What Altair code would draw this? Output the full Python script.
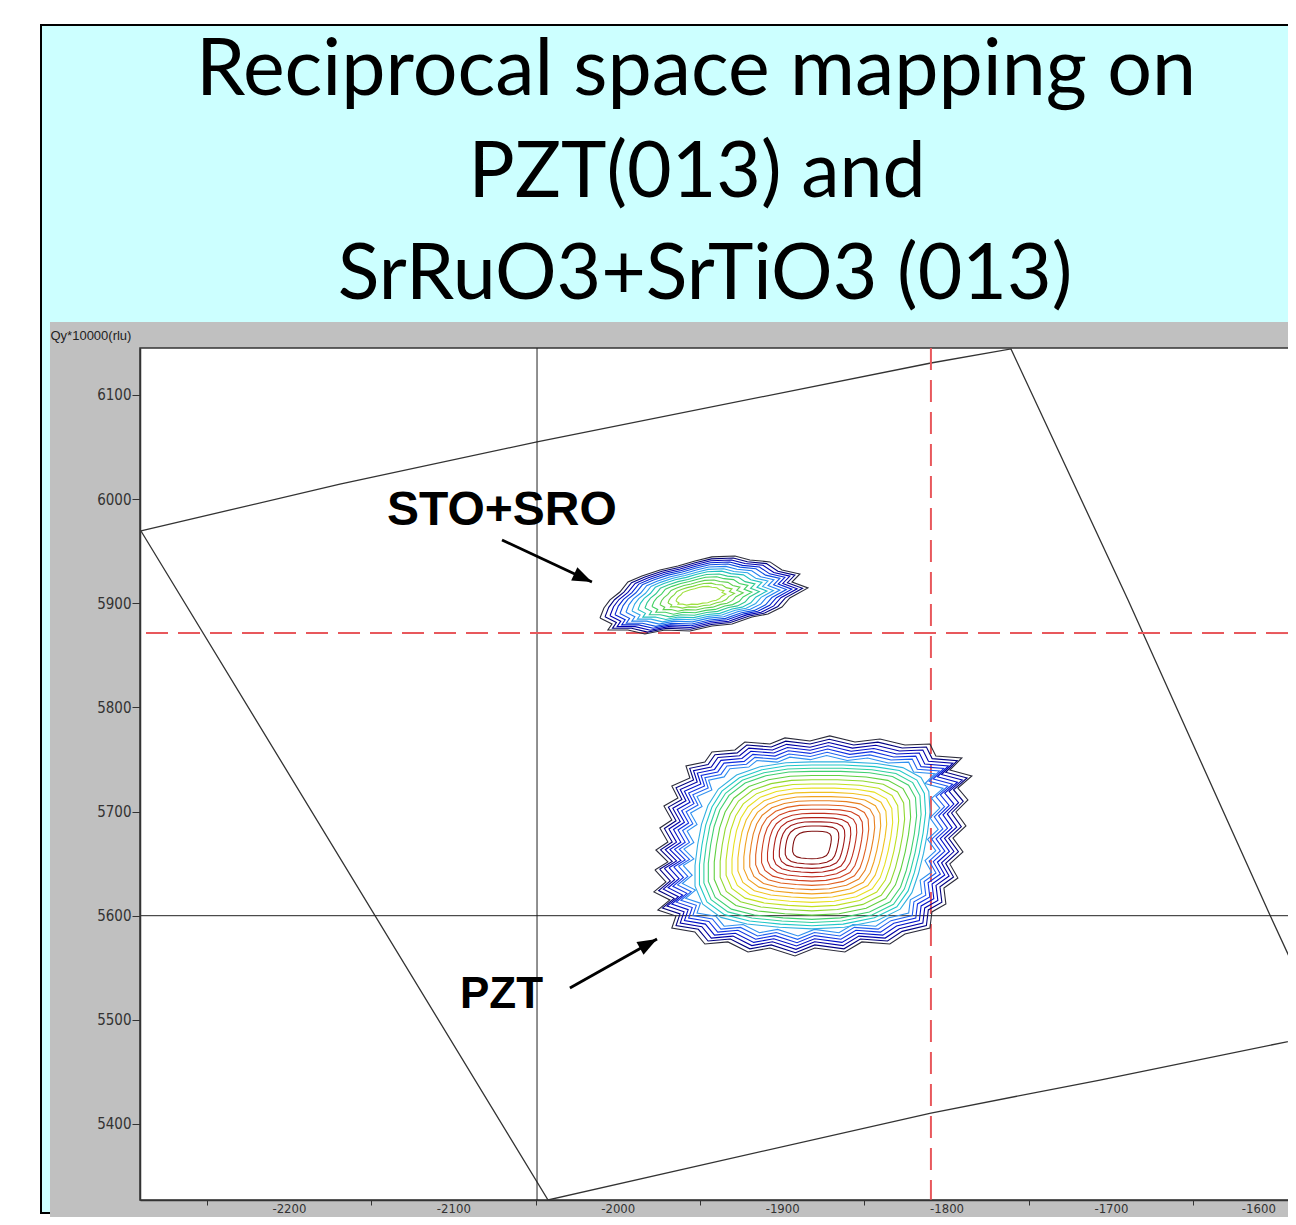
import altair as alt
import pandas as pd

# ---------------- data (Qx*10000, Qy*10000 in r.l.u.) ----------------
x_domain = [-2290.6, -1592.3]
y_domain = [5327.0, 6145.1]
x_ticks = list(range(-2250, -1599, 50))
y_ticks = list(range(5400, 6101, 100))

# boundary of the scanned area
scan_x = [-2290.0, -2169.0, -2049.1, -1809.5, -1760.8, -1689.6, -1603.3,
          -1569.8, -1706.7, -1809.5, -2042.4, -2290.0]
scan_y = [5969.4, 6014.5, 6054.9, 6130.7, 6144.2, 5903.1, 5600.6,
          5486.4, 5442.2, 5410.5, 5327.0, 5969.4]

# reference lines
black_x = [-2049.1]
black_y = [5600.0]
red_x = [-1809.5]
red_y = [5871.4]

# PZT peak: centre, jagged outer contour and smoother inner contour shape
pzt_center = (-1881.9, 5667.9)
pzt_dx = [-95.5, -87.6, -94.9, -87.6, -92.5, -85.2, -90.0, -81.5, -85.2, -74.2,
          -76.6, -65.1, -60.8, -46.8, -40.8, -25.5, -16.4, -1.2, 10.9, 26.2,
          41.4, 56.6, 71.8, 75.4, 91.2, 83.9, 97.3, 88.8, 94.9, 87.6,
          93.7, 85.8, 91.9, 83.9, 88.8, 80.3, 81.5, 73.0, 71.8, 56.6,
          47.4, 30.4, 20.1, 1.8, -10.3, -25.5, -38.9, -51.1, -65.1, -71.2,
          -85.2, -82.7, -93.7, -86.4, -96.1, -88.8]
pzt_dy = [-24.0, -16.3, -4.8, 2.9, 16.3, 24.0, 37.5, 45.1, 56.7, 64.3,
          75.9, 79.7, 89.3, 91.2, 98.9, 97.0, 102.8, 99.9, 104.7, 98.9,
          101.8, 96.0, 97.0, 85.5, 83.5, 72.0, 66.3, 54.7, 43.2, 31.7,
          18.2, 6.7, -6.7, -18.2, -31.7, -41.3, -56.7, -64.3, -79.7, -85.5,
          -95.1, -93.1, -102.8, -98.9, -106.6, -98.9, -102.8, -93.1, -95.1, -83.5,
          -79.7, -68.2, -62.4, -52.8, -45.1, -35.5]
pzt_outer_levels = [1.00, 0.97, 0.94, 0.91, 0.88, 0.85, 0.82]
pzt_outer_colors = ["#2b2b3a", "#000080", "#0000a8", "#0010c8", "#1030e0",
                    "#2060f0", "#3090f0"]
pzt_in_dx = [0, 25, 50, 70, 84, 90, 91, 89, 86, 82, 77, 68, 50, 25,
             0, -25, -50, -70, -84, -90, -90, -88, -85, -80, -72, -58, -40, -20]
pzt_in_dy = [101, 101, 99, 94, 82, 65, 40, 15, -10, -35, -58, -78, -92, -100,
             -102, -100, -96, -88, -72, -50, -25, 0, 25, 48, 68, 85, 95, 100]
pzt_inner_levels = [0.79, 0.76, 0.73, 0.70, 0.66, 0.62, 0.58, 0.54, 0.50, 0.46,
                    0.42, 0.38, 0.34, 0.30, 0.26, 0.22, 0.18, 0.13]
pzt_inner_colors = ["#30b0e0", "#20c8c8", "#30d0a0", "#40d070", "#60d040",
                    "#90d830", "#c0e020", "#e8e020", "#f0c020", "#f0a020",
                    "#e88020", "#e06020", "#d04020", "#c03020", "#b02018",
                    "#a01818", "#901010", "#801010"]

# STO+SRO peak
sto_center = (-1950.0, 5907.0)
sto_dx = [-60.8, -53.5, -56.0, -43.8, -33.5, -21.3, -6.1, 7.3, 19.5, 31.6,
          41.4, 49.9, 54.7, 65.7, 56.0, 60.8, 49.9, 42.6, 30.4, 21.3,
          7.3, -3.0, -13.4, -24.3, -35.3, -43.8, -48.7, -54.7, -58.4]
sto_dy = [-21.1, -26.9, -32.7, -32.7, -36.5, -32.7, -33.6, -28.8, -26.9, -20.2,
          -17.3, -10.6, -1.9, 7.7, 13.4, 21.1, 25.0, 32.7, 34.6, 38.4,
          37.5, 33.6, 28.8, 25.0, 19.2, 13.4, 3.8, -3.8, -11.5]
sto_levels = [1.00, 0.95, 0.90, 0.85, 0.80, 0.74, 0.68, 0.62, 0.55, 0.48,
              0.40, 0.32, 0.24]
sto_colors = ["#2b2b3a", "#000080", "#0000b0", "#0020d0", "#1050e0", "#2080f0",
              "#30a8e8", "#20c0c0", "#30c890", "#40d060", "#60d050", "#80d840",
              "#a0e040"]

# annotations
label_text = ["STO+SRO", "PZT"]
label_x = [-2140.4, -2096.0]
label_y = [5975.2, 5511.3]
label_size = [48, 44]
arrow_x1 = [-2070.4, -2029.1]
arrow_y1 = [5960.8, 5530.5]
arrow_x2 = [-2015.7, -1976.1]
arrow_y2 = [5920.4, 5577.6]
arrow_angle = [25, 331]

title_lines = ["Reciprocal space mapping on", "PZT(013) and", "SrRuO3+SrTiO3 (013)"]

# ---------------- tables ----------------
rows = []
for name, (cx, cy), dxs, dys, levels, colors in [
    ("sto", sto_center, sto_dx, sto_dy, sto_levels, sto_colors),
    ("pzo", pzt_center, pzt_dx, pzt_dy, pzt_outer_levels, pzt_outer_colors),
    ("pzi", pzt_center, pzt_in_dx, pzt_in_dy, pzt_inner_levels, pzt_inner_colors),
]:
    n = len(dxs)
    for li, (f, c) in enumerate(zip(levels, colors)):
        for k in range(n + 1):
            j = k % n
            rows.append({"ring": f"{name}{li:02d}", "ord": k,
                         "x": cx + f * dxs[j], "y": cy + f * dys[j], "col": c})
contours = pd.DataFrame(rows)
scan = pd.DataFrame({"x": scan_x, "y": scan_y, "ord": list(range(len(scan_x)))})
labels = pd.DataFrame({"x": label_x, "y": label_y, "t": label_text, "fs": label_size})
arrows = pd.DataFrame({"x": arrow_x1, "y": arrow_y1, "x2": arrow_x2, "y2": arrow_y2,
                       "ang": arrow_angle})
one = pd.DataFrame({"a": [0]})

# ---------------- scales / axes ----------------
W, H = 1148, 852
NARROW = "Liberation Sans Narrow, Arial Narrow, DejaVu Sans Condensed, Liberation Sans, sans-serif"
xs = alt.Scale(domain=x_domain, nice=False, zero=False)
ys = alt.Scale(domain=y_domain, nice=False, zero=False)
xaxis = alt.Axis(
    values=x_ticks, grid=False, title=None, zindex=1,
    labelExpr="datum.value % 100 == 0 ? '' + datum.value : ''",
    tickColor={"condition": {"test": "datum.value % 100 == 0", "value": "transparent"},
               "value": "#333333"},
    tickSize=5, tickWidth=1, labelPadding=-3, labelFont=NARROW, labelFontSize=13,
    labelColor="#333333", domainColor="#333333", domainWidth=1.5,
    labelFlush=15, labelOverlap=False,
)
yaxis = alt.Axis(
    values=y_ticks, grid=False, zindex=1,
    labelExpr="'' + datum.value",
    tickSize=8, tickWidth=1, tickColor="#333333", labelPadding=1,
    labelFont=NARROW, labelFontSize=15, labelColor="#333333",
    domainColor="#333333", domainWidth=1.5, labelFlush=False, labelOverlap=False,
    title="Qy*10000(rlu)", titleAngle=0, titleX=-90, titleY=-9, titleAlign="left",
    titleBaseline="alphabetic", titleFontSize=13, titleFontWeight="normal",
    titleFont="Liberation Sans", titleColor="#222222",
)


def X(f):
    return alt.X(f, type="quantitative", scale=xs, axis=xaxis)


def Y(f):
    return alt.Y(f, type="quantitative", scale=ys, axis=yaxis)


# ---------------- layers ----------------
frame = alt.Chart(one).mark_rect(fill="#ccffff", stroke="black", strokeWidth=2).encode(
    x=alt.value(-99), x2=alt.value(W + 20), y=alt.value(-323), y2=alt.value(865))
window = alt.Chart(one).mark_rect(fill="#c0c0c0").encode(
    x=alt.value(-90), x2=alt.value(W + 20), y=alt.value(-26), y2=alt.value(H + 40))
plotbg = alt.Chart(one).mark_rect(fill="white", stroke="#333333", strokeWidth=1.5).encode(
    x=alt.value(0), x2=alt.value(W + 5), y=alt.value(0), y2=alt.value(H))

scan_line = alt.Chart(scan).mark_line(color="#333333", strokeWidth=1.3, clip=True).encode(
    x=X("x"), y=Y("y"), order="ord:Q")

vblack = alt.Chart(pd.DataFrame({"x": black_x})).mark_rule(color="#222222", strokeWidth=1).encode(x=X("x"))
hblack = alt.Chart(pd.DataFrame({"y": black_y})).mark_rule(color="#222222", strokeWidth=1).encode(y=Y("y"))
vred = alt.Chart(pd.DataFrame({"x": red_x})).mark_rule(
    color="#e8585c", strokeWidth=2, strokeDash=[22, 10]).encode(x=X("x"))
hred = alt.Chart(pd.DataFrame({"y": red_y})).mark_rule(
    color="#e8585c", strokeWidth=2, strokeDash=[22, 10]).encode(y=Y("y"))

rings = alt.Chart(contours).mark_line(strokeWidth=1.1, clip=True).encode(
    x=X("x"), y=Y("y"), detail="ring:N", order="ord:Q",
    color=alt.Color("col:N", scale=None))

arrow_lines = alt.Chart(arrows).mark_rule(color="black", strokeWidth=2.8).encode(
    x=X("x"), y=Y("y"), x2="x2", y2="y2")
arrow_heads = alt.Chart(arrows).mark_point(
    shape="M0,0L-2,-0.75L-2,0.75Z", filled=True, color="black", opacity=1, size=380).encode(
    x=X("x2"), y=Y("y2"), angle=alt.Angle("ang:Q", scale=None))
label_marks = alt.Chart(labels).mark_text(
    font="Liberation Sans", fontWeight="bold", align="left", baseline="alphabetic",
    color="black").encode(x=X("x"), y=Y("y"), text="t:N", size=alt.Size("fs:Q", scale=None))

title_pos = [(556, -253, 79), (557, -151, 77), (565, -49, 77)]
titles = [
    alt.Chart(one).mark_text(font="Lato", fontSize=fs, align="center",
                             baseline="alphabetic", color="black").encode(
        x=alt.value(px), y=alt.value(py), text=alt.value(t))
    for t, (px, py, fs) in zip(title_lines, title_pos)
]

chart = alt.layer(
    frame, window, plotbg, scan_line, vblack, hblack, vred, hred, rings,
    arrow_lines, arrow_heads, label_marks, *titles,
).properties(
    width=W, height=H,
    padding={"left": 132, "top": 340, "right": 0, "bottom": 17},
    autosize=alt.AutoSizeParams(type="none"),
    background="white",
).configure_view(stroke=None)

chart.save("out.html", embed_options={"renderer": "svg", "actions": False})
